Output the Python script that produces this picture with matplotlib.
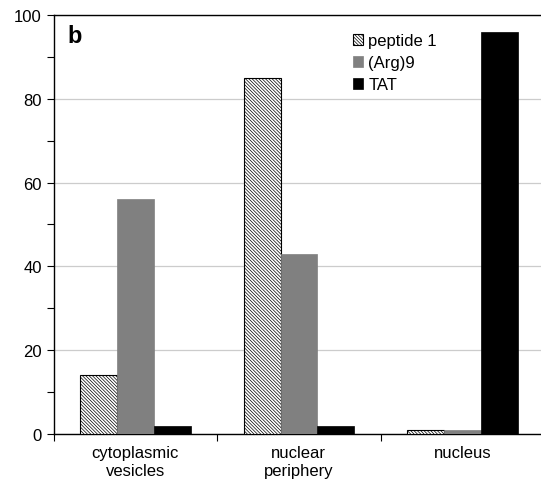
import numpy as np
import matplotlib
matplotlib.use('Agg')
import matplotlib.pyplot as plt
from matplotlib.ticker import MultipleLocator, FixedLocator, NullFormatter

plt.rcParams['font.family'] = ['Liberation Sans', 'DejaVu Sans']
plt.rcParams['hatch.linewidth'] = 0.5

categories = ['cytoplasmic\nvesicles', 'nuclear\nperiphery', 'nucleus']
series = ['peptide 1', '(Arg)9', 'TAT']
peptide1 = [14, 85, 1]
arg9 = [56, 43, 1]
tat = [2, 2, 96]

fig = plt.figure(figsize=(5.41, 4.81), dpi=100)
ax = fig.add_axes([0.099, 0.0956, 0.907, 0.8714])

x = np.arange(len(categories))
w = 0.225
ax.bar(x - w, peptide1, w, color='white', edgecolor='black', hatch='\\' * 10,
       linewidth=0.8, label=series[0], zorder=3)
ax.bar(x, arg9, w, color='#808080', edgecolor='#808080', linewidth=0.5,
       label=series[1], zorder=3)
ax.bar(x + w, tat, w, color='black', edgecolor='black', linewidth=0.5,
       label=series[2], zorder=3)

ax.set_xlim(-0.5, 2.5)
ax.set_ylim(0, 100)
ax.yaxis.set_major_locator(MultipleLocator(20))
ax.yaxis.set_minor_locator(MultipleLocator(10))
ax.grid(axis='y', which='major', color='#cccccc', linewidth=0.9, zorder=0)

ax.set_xticks(x)
ax.set_xticklabels(categories, fontsize=12)
ax.tick_params(axis='x', which='major', length=0, pad=8)
ax.xaxis.set_minor_locator(FixedLocator([-0.5, 0.5, 1.5, 2.5]))
ax.xaxis.set_minor_formatter(NullFormatter())
ax.tick_params(axis='x', which='minor', length=5, width=0.8)
ax.tick_params(axis='y', which='both', length=5, width=0.8, labelsize=12)

for s in ['left', 'bottom', 'top']:
    ax.spines[s].set_color('black')
    ax.spines[s].set_linewidth(1.0)
ax.spines['right'].set_visible(False)

ax.text(0.028, 0.978, 'b', transform=ax.transAxes, fontsize=17, fontweight='bold',
        va='top', ha='left')

ax.legend(loc='upper left', bbox_to_anchor=(0.58, 0.992), frameon=False, fontsize=12,
          handlelength=0.6, handleheight=0.6, handletextpad=0.3, labelspacing=0.42)

fig.savefig('out.png', dpi=100)
